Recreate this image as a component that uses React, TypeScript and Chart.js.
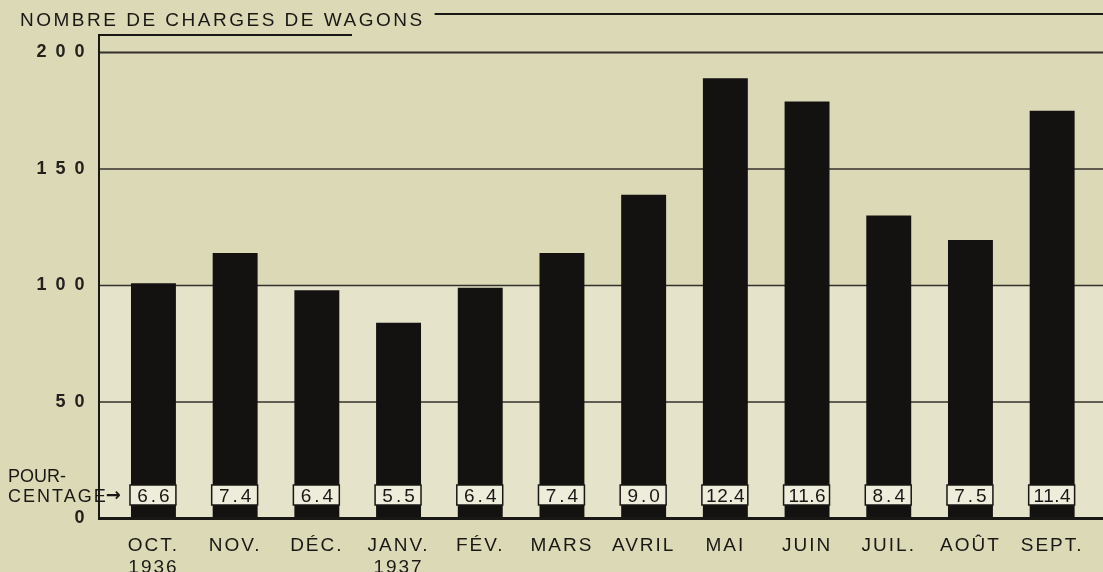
import React, { useEffect, useRef } from "react";
import { Chart, registerables } from "chart.js";

Chart.register(...registerables);

const months: string[][] = [
  ["OCT.", "1936"],
  ["NOV."],
  ["DÉC."],
  ["JANV.", "1937"],
  ["FÉV."],
  ["MARS"],
  ["AVRIL"],
  ["MAI"],
  ["JUIN"],
  ["JUIL."],
  ["AOÛT"],
  ["SEPT."],
];
const wagonLoads = [101, 114, 98, 84, 99, 114, 139, 189, 179, 130, 119.5, 175];
const percentages = ["6.6", "7.4", "6.4", "5.5", "6.4", "7.4", "9.0", "12.4", "11.6", "8.4", "7.5", "11.4"];
const yTicks = [0, 50, 100, 150, 200];
const yTickLabels = ["0", "5 0", "1 0 0", "1 5 0", "2 0 0"];
const titleText = "NOMBRE DE CHARGES DE WAGONS";
const pctLabel = ["POUR-", "CENTAGE", "\u2192"];

const FONT = '"Liberation Sans", Arial, sans-serif';
const BG = "#dcd9b7";
const LIGHT = "#e5e3c9";
const INK = "#1a1815";
const BAR = "#141210";

const decorPlugin = {
  id: "decor",
  beforeDraw(chart: any) {
    const ctx = chart.ctx as CanvasRenderingContext2D;
    const y = chart.scales.y;
    ctx.save();
    ctx.fillStyle = BG;
    ctx.fillRect(0, 0, chart.width, chart.height);
    const y100 = y.getPixelForValue(100);
    const y0 = y.getPixelForValue(0);
    ctx.fillStyle = LIGHT;
    ctx.fillRect(100, y100, chart.width - 100, y0 - y100);
    ctx.restore();
    (ctx as any).letterSpacing = "2px";
  },
  beforeDatasetsDraw(chart: any) {
    const ctx = chart.ctx as CanvasRenderingContext2D;
    const y = chart.scales.y;
    const axisX = 99;
    const right = chart.width;
    ctx.save();
    ctx.strokeStyle = "#34302b";
    yTicks.forEach((v) => {
      if (v === 0) return;
      const py = y.getPixelForValue(v);
      ctx.lineWidth = v === 200 ? 2 : 1.5;
      ctx.beginPath();
      ctx.moveTo(axisX, py);
      ctx.lineTo(right, py);
      ctx.stroke();
    });
    ctx.strokeStyle = INK;
    ctx.lineWidth = 2;
    ctx.beginPath();
    ctx.moveTo(axisX, 35);
    ctx.lineTo(axisX, y.getPixelForValue(0) + 1);
    ctx.stroke();
    ctx.beginPath();
    ctx.moveTo(axisX - 1, 35);
    ctx.lineTo(352, 35);
    ctx.stroke();
    ctx.restore();
  },
  afterDatasetsDraw(chart: any) {
    const ctx = chart.ctx as CanvasRenderingContext2D;
    const y = chart.scales.y;
    const y0 = y.getPixelForValue(0);
    ctx.save();
    ctx.strokeStyle = INK;
    ctx.lineWidth = 3;
    ctx.beginPath();
    ctx.moveTo(98, y0);
    ctx.lineTo(chart.width, y0);
    ctx.stroke();
    const meta = chart.getDatasetMeta(0);
    meta.data.forEach((bar: any, i: number) => {
      const w = bar.width;
      const left = bar.x - w / 2 - 1;
      const top = y0 - 33.5;
      const h = 20;
      ctx.fillStyle = "#eeecdb";
      ctx.fillRect(left, top, w + 1, h);
      ctx.strokeStyle = INK;
      ctx.lineWidth = 1.5;
      ctx.strokeRect(left, top, w + 1, h);
      ctx.fillStyle = INK;
      const txt = percentages[i];
      const ls = txt.length > 3 ? 0.5 : 3;
      (ctx as any).letterSpacing = `${ls}px`;
      ctx.font = `19px ${FONT}`;
      ctx.textAlign = "center";
      ctx.textBaseline = "alphabetic";
      ctx.fillText(txt, bar.x + ls / 2, top + 17);
    });
    ctx.textAlign = "left";
    ctx.font = `18px ${FONT}`;
    ctx.fillStyle = INK;
    (ctx as any).letterSpacing = "0px";
    ctx.fillText(pctLabel[0], 8, y0 - 37);
    (ctx as any).letterSpacing = "2px";
    ctx.fillText(pctLabel[1], 8, y0 - 17);
    const cw = ctx.measureText(pctLabel[1]).width;
    ctx.font = `bold 18px "DejaVu Sans", ${FONT}`;
    (ctx as any).letterSpacing = "0px";
    ctx.fillText(pctLabel[2], 8 + cw - 2, y0 - 18);
    ctx.font = `19px ${FONT}`;
    (ctx as any).letterSpacing = "2.5px";
    ctx.fillText(titleText, 20, 26);
    const tw = ctx.measureText(titleText).width;
    ctx.lineWidth = 2;
    ctx.beginPath();
    ctx.moveTo(20 + tw + 10, 14);
    ctx.lineTo(chart.width, 14);
    ctx.stroke();
    ctx.restore();
  },
  afterDraw(chart: any) {
    (chart.ctx as any).letterSpacing = "0px";
  },
};

export default function App() {
  const ref = useRef<HTMLCanvasElement | null>(null);
  useEffect(() => {
    if (!ref.current) return;
    const chart = new Chart(ref.current, {
      type: "bar",
      data: {
        labels: months,
        datasets: [
          {
            data: wagonLoads,
            backgroundColor: BAR,
            borderWidth: 0,
            barPercentage: 0.55,
            categoryPercentage: 1.0,
          },
        ],
      },
      options: {
        animation: false,
        responsive: false,
        devicePixelRatio: 1,
        layout: { padding: { top: 52.5, right: 10, left: 0, bottom: 0 } },
        plugins: { legend: { display: false }, tooltip: { enabled: false }, title: { display: false } },
        scales: {
          x: {
            grid: { display: false, drawTicks: false },
            border: { display: false },
            ticks: {
              color: INK,
              font: { family: FONT, size: 19, lineHeight: 1.15 },
              padding: 16,
              maxRotation: 0,
              autoSkip: false,
            },
            afterFit: (s: any) => {
              s.height = 53.5;
            },
          },
          y: {
            min: 0,
            max: 200,
            grid: { display: false, drawTicks: false },
            border: { display: false },
            ticks: {
              stepSize: 50,
              color: "#24211d",
              font: { family: FONT, size: 18, weight: "bold" },
              padding: 26,
              callback: (v: any) => {
                const i = yTicks.indexOf(Number(v));
                return i >= 0 ? yTickLabels[i] : "";
              },
            },
            afterFit: (s: any) => {
              s.width = 112.6;
            },
          },
        },
      },
      plugins: [decorPlugin],
    });
    return () => chart.destroy();
  }, []);
  return (
    <div style={{ position: "fixed", left: 0, top: 0, width: 1103, height: 572, background: BG }}>
      <canvas ref={ref} width={1103} height={572} style={{ display: "block" }} />
    </div>
  );
}
